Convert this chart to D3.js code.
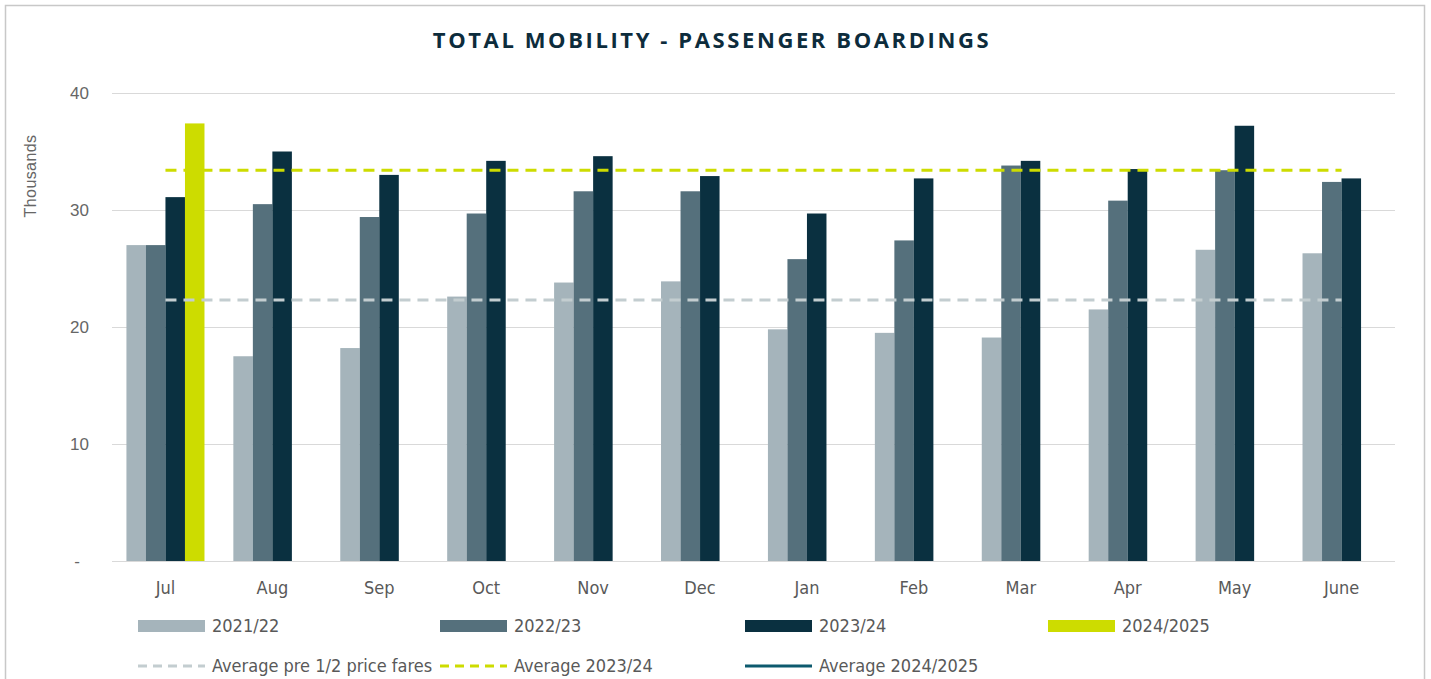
<!DOCTYPE html>
<html>
<head>
<meta charset="utf-8">
<script src="https://cdn.jsdelivr.net/npm/d3@7"></script>
<style>
  body { margin: 0; background: #fff; }
  text { font-family: "Liberation Sans Narrow", "DejaVu Sans Condensed", "Roboto", sans-serif; }
  .title { font-family: "Open Sans", sans-serif; font-weight: 700; }
  .wide { font-family: "Liberation Sans", Arial, sans-serif; }
</style>
</head>
<body>
<svg id="chart" width="1431" height="679"></svg>
<script>
const months = ['Jul', 'Aug', 'Sep', 'Oct', 'Nov', 'Dec', 'Jan', 'Feb', 'Mar', 'Apr', 'May', 'June'];
const seriesNames = ['2021/22', '2022/23', '2023/24', '2024/2025'];
const fy2122 = [27.0, 17.5, 18.2, 22.6, 23.8, 23.9, 19.8, 19.5, 19.1, 21.5, 26.6, 26.3];
const fy2223 = [27.0, 30.5, 29.4, 29.7, 31.6, 31.6, 25.8, 27.4, 33.8, 30.8, 33.4, 32.4];
const fy2324 = [31.1, 35.0, 33.0, 34.2, 34.6, 32.9, 29.7, 32.7, 34.2, 33.5, 37.2, 32.7];
const fy2425 = [37.4, null, null, null, null, null, null, null, null, null, null, null];
const avgPre = 22.3;
const avg2324 = 33.4;
const yTicks = [0, 10, 20, 30, 40];

const colors = ['#a5b4bb', '#55707c', '#0a3040', '#cddc00'];
const allSeries = [fy2122, fy2223, fy2324, fy2425];

let svg = d3.select('#chart');

// frame
svg.append('rect')
  .attr('x', 5.5).attr('y', 5.5)
  .attr('width', 1419).attr('height', 700)
  .attr('fill', 'none').attr('stroke', '#c8c8c8').attr('stroke-width', 1.5);

svg.append('text')
  .attr('class', 'title')
  .attr('x', 712).attr('y', 48)
  .attr('text-anchor', 'middle')
  .attr('fill', '#0d2c3c')
  .attr('font-size', 22)
  .attr('letter-spacing', 2.6)
  .text('TOTAL MOBILITY - PASSENGER BOARDINGS');

let x0 = d3.scaleBand()
  .domain(months)
  .range([112, 1395])
  .paddingInner(0.27)
  .paddingOuter(0.135);

let x1 = d3.scaleBand()
  .domain(seriesNames)
  .range([0, x0.bandwidth()]);

let y = d3.scaleLinear()
  .domain([0, 40])
  .range([561, 93]);

// grid
svg.append('g')
  .selectAll('line')
  .data(yTicks)
  .join('line')
  .attr('x1', 112).attr('x2', 1395)
  .attr('y1', d => y(d) + 0.5).attr('y2', d => y(d) + 0.5)
  .attr('stroke', '#d9d9d9').attr('stroke-width', 1);

// y axis labels
let yAxis = svg.append('g')
  .attr('transform', 'translate(112,0)')
  .call(d3.axisLeft(y).tickValues(yTicks).tickSize(0).tickPadding(23)
    .tickFormat(d => d === 0 ? '-' : d));
yAxis.select('.domain').remove();
yAxis.selectAll('text')
  .attr('class', 'wide')
  .attr('font-size', 17)
  .attr('fill', '#666666')
  .attr('dx', d => d === 0 ? -9 : 0);

svg.append('text')
  .attr('class', 'wide')
  .attr('transform', 'translate(36,176) rotate(-90)')
  .attr('text-anchor', 'middle')
  .attr('font-size', 16)
  .attr('letter-spacing', 0.4)
  .attr('fill', '#666666')
  .text('Thousands');

// bars
let groups = svg.append('g')
  .selectAll('g')
  .data(months)
  .join('g')
  .attr('transform', d => 'translate(' + x0(d) + ',0)');

groups.selectAll('rect')
  .data((m, i) => seriesNames.map((s, j) => ({ s: s, j: j, v: allSeries[j][i] })).filter(d => d.v !== null))
  .join('rect')
  .attr('x', d => x1(d.s))
  .attr('width', x1.bandwidth())
  .attr('y', d => y(d.v))
  .attr('height', d => y(0) - y(d.v))
  .attr('fill', d => colors[d.j]);

// x axis labels
let xAxis = svg.append('g')
  .attr('transform', 'translate(0,561)')
  .call(d3.axisBottom(x0).tickSize(0).tickPadding(20));
xAxis.select('.domain').remove();
xAxis.selectAll('text')
  .attr('font-size', 18)
  .attr('fill', '#595959');

// average lines
let xFirst = x0(months[0]) + x0.bandwidth() / 2;
let xLast = x0(months[months.length - 1]) + x0.bandwidth() / 2;

svg.append('line')
  .attr('x1', xFirst).attr('x2', xLast)
  .attr('y1', y(avgPre)).attr('y2', y(avgPre))
  .attr('stroke', '#c3cdd0').attr('stroke-width', 3)
  .attr('stroke-dasharray', '11,7');

svg.append('line')
  .attr('x1', xFirst).attr('x2', xLast)
  .attr('y1', y(avg2324)).attr('y2', y(avg2324))
  .attr('stroke', '#cddc00').attr('stroke-width', 3)
  .attr('stroke-dasharray', '11,7');

// legend
const legendRow1 = [
  { label: '2021/22', color: colors[0], x: 138 },
  { label: '2022/23', color: colors[1], x: 440 },
  { label: '2023/24', color: colors[2], x: 745 },
  { label: '2024/2025', color: colors[3], x: 1048 }
];
const legendRow2 = [
  { label: 'Average pre 1/2 price fares', color: '#c3cdd0', x: 138, dash: '9,6' },
  { label: 'Average 2023/24', color: '#cddc00', x: 440, dash: '9,6' },
  { label: 'Average 2024/2025', color: '#0d5a6e', x: 745, dash: null }
];

let leg1 = svg.append('g').selectAll('g').data(legendRow1).join('g')
  .attr('transform', d => 'translate(' + d.x + ',626)');
leg1.append('rect')
  .attr('x', 0).attr('y', -6).attr('width', 67).attr('height', 12)
  .attr('fill', d => d.color);
leg1.append('text')
  .attr('x', 74).attr('y', 0).attr('dy', '0.35em')
  .attr('font-size', 18).attr('fill', '#595959')
  .text(d => d.label);

let leg2 = svg.append('g').selectAll('g').data(legendRow2).join('g')
  .attr('transform', d => 'translate(' + d.x + ',666)');
leg2.append('line')
  .attr('x1', 0).attr('x2', 67).attr('y1', 0).attr('y2', 0)
  .attr('stroke', d => d.color).attr('stroke-width', 3)
  .attr('stroke-dasharray', d => d.dash);
leg2.append('text')
  .attr('x', 74).attr('y', 0).attr('dy', '0.35em')
  .attr('font-size', 18).attr('fill', '#595959')
  .text(d => d.label);
</script>
</body>
</html>
